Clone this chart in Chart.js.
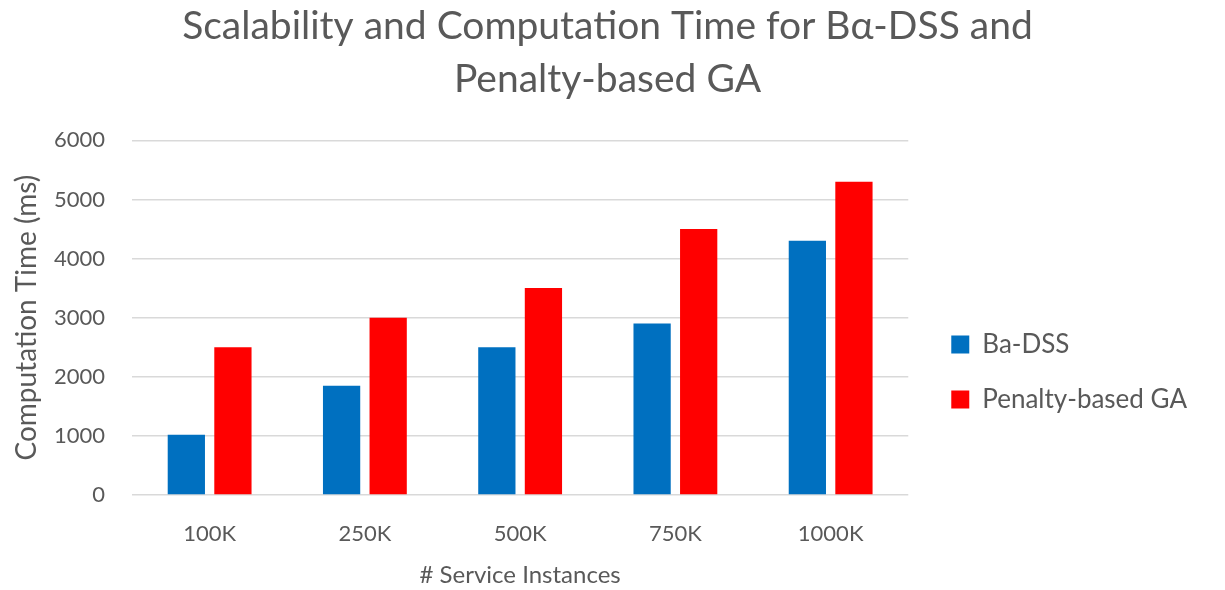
<!DOCTYPE html>
<html>
<head>
<meta charset="utf-8">
<script src="https://cdn.jsdelivr.net/npm/chart.js@4"></script>
<style>
  html, body { margin: 0; padding: 0; background: #fff; }
  #wrap { width: 1225px; height: 590px; }
</style>
</head>
<body>
<div id="wrap"><canvas id="timeChart"></canvas></div>
<script>
// data
const instances = ["100K", "250K", "500K", "750K", "1000K"];
const baDss = [1020, 1850, 2500, 2900, 4300];
const penaltyGa = [2500, 3000, 3500, 4500, 5300];
const yTicks = [0, 1000, 2000, 3000, 4000, 5000, 6000];

const grey = "#595959";
const fontName = "Lato, 'Open Sans', sans-serif";

// nudge the legend and title to where the original has them
const nudge = {
  id: "nudge",
  afterLayout(chart) {
    const lg = chart.legend;
    lg.top += 77; lg.bottom += 77;
    lg.left += 14; lg.right += 14;
    const t = chart.titleBlock;
    t.left += 12; t.right += 12;
  }
};

const ctx = document.getElementById("timeChart").getContext("2d");
new Chart(ctx, {
  type: "bar",
  data: {
    labels: instances,
    datasets: [{
      label: "Ba-DSS",
      data: baDss,
      backgroundColor: "#0070c0"
    }, {
      label: "Penalty-based GA",
      data: penaltyGa,
      backgroundColor: "#ff0000"
    }]
  },
  plugins: [nudge],
  options: {
    responsive: true,
    maintainAspectRatio: false,
    animation: false,
    categoryPercentage: 0.6,
    barPercentage: 0.8,
    layout: { padding: { left: 8, right: 42, top: 0, bottom: 0 } },
    plugins: {
      title: {
        display: true,
        text: ["Scalability and Computation Time for B\u03b1-DSS and", "Penalty-based GA"],
        color: grey,
        font: { family: fontName, size: 39, weight: "normal", lineHeight: 1.35 },
        padding: { top: 0, bottom: 35 }
      },
      legend: {
        position: "right",
        labels: {
          color: grey,
          font: { family: fontName, size: 26 },
          boxWidth: 18,
          boxHeight: 18,
          padding: 29
        }
      },
      tooltip: { enabled: false }
    },
    scales: {
      x: {
        afterFit: s => { s.height = 95; },
        grid: { display: false, drawTicks: false },
        border: { display: false },
        ticks: { color: grey, font: { family: fontName, size: 22 }, padding: 26 },
        title: {
          display: true,
          text: "# Service Instances",
          color: grey,
          font: { family: fontName, size: 24 },
          padding: { top: 0, bottom: 0 }
        }
      },
      y: {
        min: 0,
        max: 6000,
        afterFit: s => { s.width = 124; },
        afterBuildTicks: function (axis) {
          axis.ticks = yTicks.map(v => ({ value: v }));
        },
        grid: { color: "#d9d9d9", lineWidth: 1.5, drawTicks: false },
        border: { display: false },
        ticks: {
          color: grey,
          font: { family: fontName, size: 22 },
          padding: 27,
          callback: v => String(v)
        },
        title: {
          display: true,
          text: "Computation Time (ms)",
          color: grey,
          font: { family: fontName, size: 28 },
          padding: { top: 2, bottom: 0 }
        }
      }
    }
  }
});
</script>
</body>
</html>
